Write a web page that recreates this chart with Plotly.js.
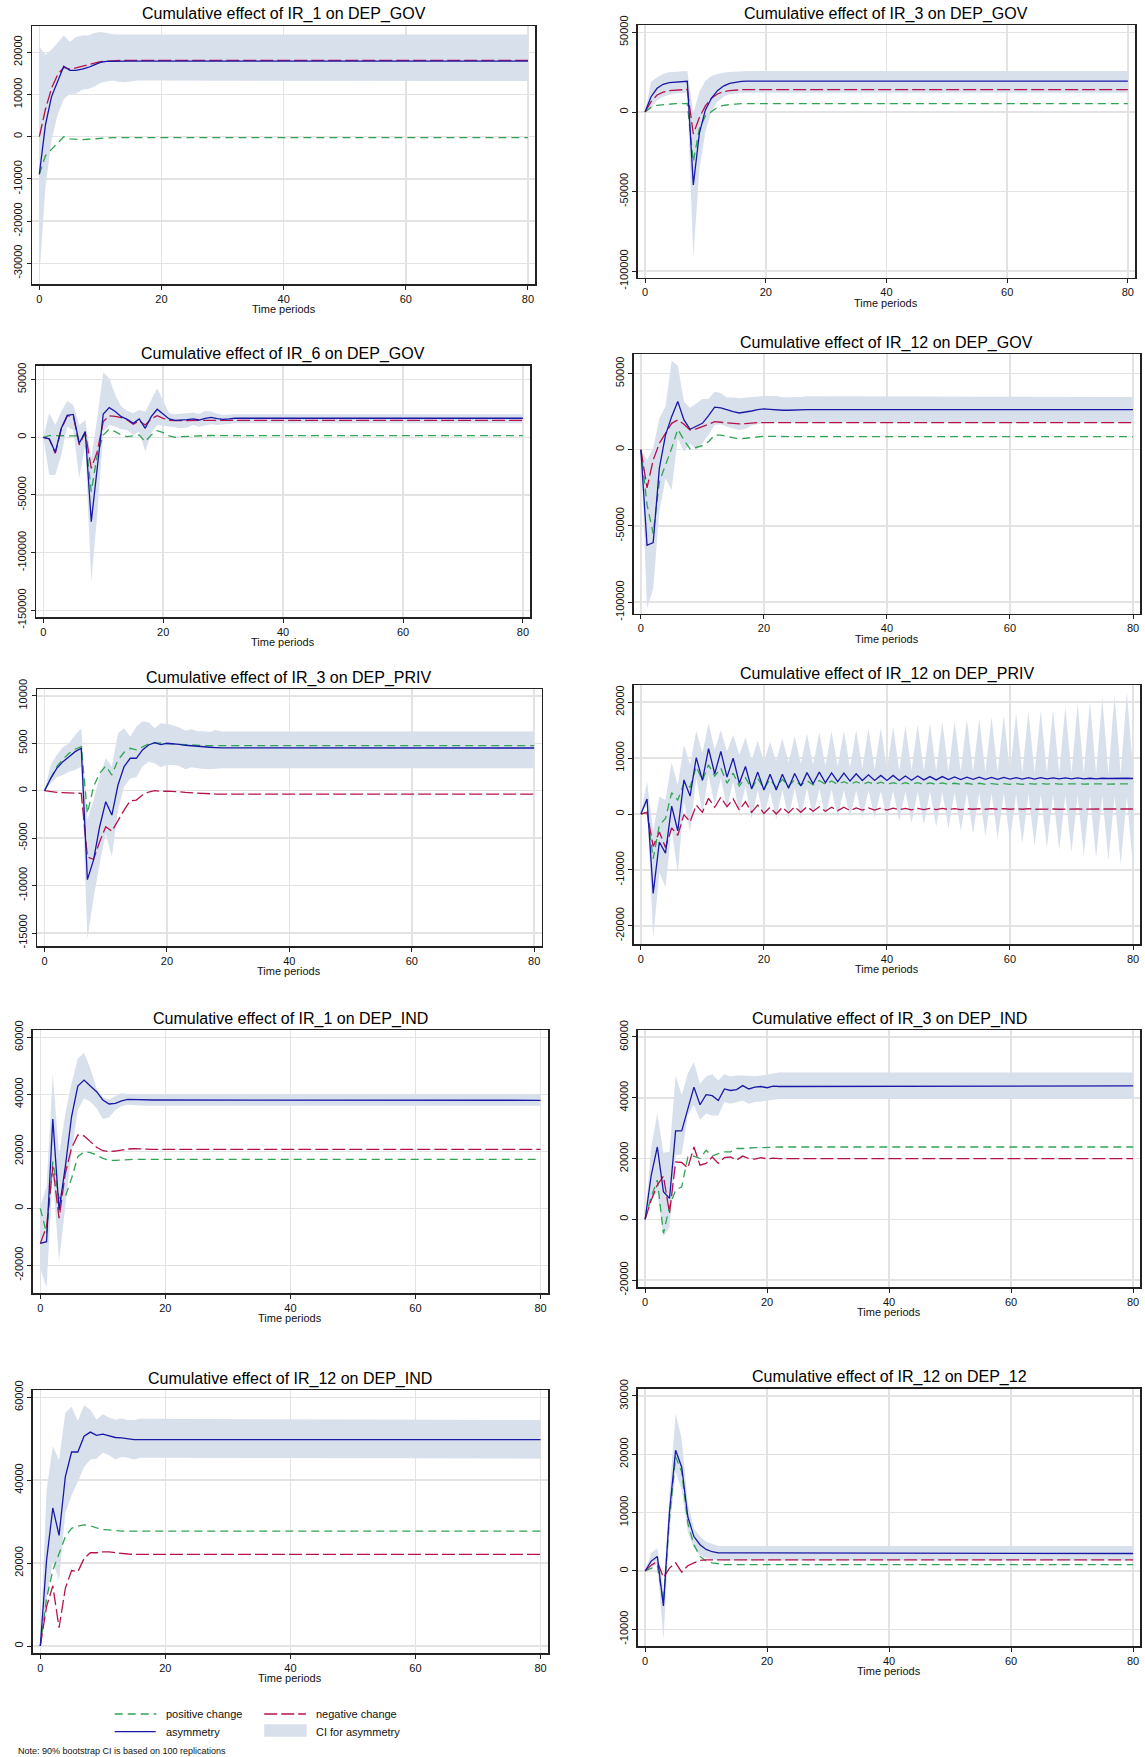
<!DOCTYPE html>
<html><head><meta charset="utf-8">
<script src="https://cdn.plot.ly/plotly-3.0.1.min.js"></script>
<style>html,body{margin:0;padding:0;background:#fff}</style>
</head><body><div id="chart" style="width:1145px;height:1757px"></div>
<script>
// ---------- DATA ----------
const titles = [
  "Cumulative effect of IR_1 on DEP_GOV", "Cumulative effect of IR_3 on DEP_GOV",
  "Cumulative effect of IR_6 on DEP_GOV", "Cumulative effect of IR_12 on DEP_GOV",
  "Cumulative effect of IR_3 on DEP_PRIV", "Cumulative effect of IR_12 on DEP_PRIV",
  "Cumulative effect of IR_1 on DEP_IND", "Cumulative effect of IR_3 on DEP_IND",
  "Cumulative effect of IR_12 on DEP_IND", "Cumulative effect of IR_12 on DEP_12"
];
const xTitle = "Time periods";
const xTicks = [0, 20, 40, 60, 80];
const legendLabels = ["positive change", "negative change", "asymmetry", "CI for asymmetry"];
const noteText = "Note: 90% bootstrap CI is based on 100 replications";

// Panel 1: IR_1 on DEP_GOV
const t1 = [0,1,2,3,4,5,6,7,8,9,10,11,12,13,14,15,16,17,80];
const asym1 = [-8900,2800,9500,13100,16700,15700,15700,16000,16400,17000,17600,17850,17900,17900,17900,17900,17900,17900,17900];
const pos1 = [-8900,-4500,-3000,-1600,0,-500,-600,-700,-600,-500,-300,-200,-200,-200,-200,-200,-200,-200,-200];
const neg1 = [0,6500,11500,14700,16400,16000,16300,16700,17100,17500,17800,17900,18000,18100,18100,18100,18100,18100,18100];
const up1 = [21300,19400,20600,22400,24000,22500,23650,24000,24000,24600,24800,24600,24300,24200,24200,24200,24200,24200,24200];
const lo1 = [-33300,-11900,-800,5200,8900,10200,10200,11100,11300,11900,12700,13100,13300,13000,12900,13100,13300,13300,13200];
const yt1 = [-30000,-20000,-10000,0,10000,20000];

// Panel 2: IR_3 on DEP_GOV
const t2 = [0,1,2,3,4,5,6,7,8,9,10,11,12,13,14,15,16,17,80];
const asym2 = [0,9600,14900,17400,18400,18800,19200,19300,-45800,-13400,1300,8600,13400,16300,18000,18800,19200,19450,19450];
const pos2 = [0,2900,4200,4600,5000,5200,5200,5400,-31200,-10500,-2500,200,2900,4200,4800,5000,5200,5300,5300];
const neg2 = [0,6500,10700,12500,13400,13800,14000,14200,-13800,-3500,3800,8600,11300,12800,13400,13800,14000,14100,14100];
const up2 = [0,19000,21800,23800,24900,25300,25500,25700,-800,12800,19700,22600,23800,24700,25100,25300,25700,25700,25700];
const lo2 = [0,2300,7500,9600,10900,11700,11900,12100,-91200,-36400,-12300,200,6500,9600,11100,11700,11900,12100,12100];
const yt2 = [-100000,-50000,0,50000];

// Panel 3: IR_6 on DEP_GOV
const t3 = [0,1,2,3,4,5,6,7,8,9,10,11,12,13,14,15,16,17,18,19,20,21,22,23,24,25,26,27,28,29,30,31,32,80];
const asym3 = [0,-1400,-13000,7800,19000,19800,-5200,4900,-73100,-26900,20200,25700,22300,17900,15600,12100,15900,7800,17900,24300,20200,15900,14700,14700,15300,15900,15000,16500,17300,16200,15600,15900,16500,16500];
const pos3 = [0,1400,1400,1400,1400,1700,1200,1200,-47100,-15300,2000,7200,4900,2000,600,1200,2000,-3800,2000,5800,4000,1200,0,600,900,1200,1400,2000,1700,1400,1200,1400,1400,1400];
const neg3 = [0,-1400,-13900,7200,18500,18500,-6600,4300,-26900,-12400,13600,18500,18200,17100,15000,11300,14200,10700,15900,18800,16500,14700,14500,14600,14700,14700,14700,14700,14700,14700,14700,14700,14700,14700];
const up3 = [0,20800,10700,22300,31500,28000,10700,15000,-18200,16500,56400,51200,36700,26600,22800,20800,23700,22300,32400,42500,31500,20800,19900,20200,20800,21400,20200,23100,22300,20500,19400,19900,19900,19900];
const lo3 = [0,-32700,-32700,-15300,9200,6400,-35500,-6600,-125100,-67300,4900,10700,9200,6900,6400,2000,4900,-12400,3500,10700,10100,9200,8400,7800,8400,10700,9200,10100,11300,10700,11300,12100,12100,12100];
const yt3 = [-150000,-100000,-50000,0,50000];

// Panel 4: IR_12 on DEP_GOV
const t4 = [0,1,2,3,4,5,6,7,8,9,10,11,12,13,14,15,16,17,18,19,20,21,22,23,24,25,26,27,80];
const asym4 = [0,-62700,-61000,-12300,9600,21700,31600,19500,13400,15100,17300,22400,27900,27400,26100,25000,24100,24600,25400,26300,26800,26500,26100,25900,25900,26100,26300,26300,26300];
const pos4 = [0,-36000,-55000,-21100,-10100,900,13400,6400,400,1300,2600,5300,9600,9600,8600,7500,7000,7500,8100,8600,8800,8700,8600,8600,8600,8600,8600,8600,8600];
const neg4 = [0,-25000,-6800,4200,10700,17300,19500,16700,12900,13600,15100,16900,18400,18000,17500,17100,16900,17100,17500,17800,17800,17800,17800,17800,17800,17800,17800,17800,17800];
const up4 = [0,-6800,900,20600,28300,58300,55300,31600,27600,30500,33300,33300,38200,37100,34200,34200,33800,34200,34400,34900,35300,35500,35300,34400,34400,34400,34600,35100,34600];
const lo4 = [0,-104400,-91200,-40800,-18900,-26500,7500,-1300,4200,-200,4200,9600,16200,16700,15100,14000,12900,13600,15800,16700,17800,18000,18000,18000,18000,18000,18000,18000,18000];
const yt4 = [-100000,-50000,0,50000];

// Panel 5: IR_3 on DEP_PRIV
const t5 = [0,1,2,3,4,5,6,7,8,9,10,11,12,13,14,15,16,17,18,19,20,21,22,23,24,25,26,27,28,29,80];
const asym5 = [0,1300,2360,3060,3590,4120,4470,-9370,-7320,-3800,-1160,-2570,600,2540,3420,3420,4300,4820,5070,4860,5000,4960,4890,4790,4720,4680,4650,4580,4540,4510,4500];
const pos5 = [0,1230,2540,3310,3940,4370,4650,-2390,420,1830,2610,1650,3240,4050,4470,4300,4580,4930,5040,5000,5000,4930,4860,4830,4790,4750,4750,4750,4750,4750,4750];
const neg5 = [0,-100,-180,-210,-250,-280,-280,-6970,-7250,-5390,-3800,-4260,-3100,-2040,-1060,-990,-460,-140,0,-70,-40,-40,-110,-180,-230,-280,-310,-350,-350,-350,-350];
const up5 = [0,2710,3770,4580,5000,5880,6580,-3100,-990,1480,3420,2540,6060,6580,5700,6760,7290,7220,6580,7110,7040,6900,6650,6340,6480,6270,6270,6200,6410,6230,6230];
const lo5 = [0,770,1410,1650,2010,2180,2540,-15600,-11370,-7680,-4510,-6970,-2040,420,1300,1410,2540,3060,2890,2460,2710,2710,2610,2250,2460,2360,2300,2250,2300,2360,2360];
const yt5 = [-15000,-10000,-5000,0,5000,10000];

// Panel 6: IR_12 on DEP_PRIV (every period)
const t6 = [0,1,2,3,4,5,6,7,8,9,10,11,12,13,14,15,16,17,18,19,20,21,22,23,24,25,26,27,28,29,30,31,32,33,34,35,36,37,38,39,40,
  41,42,43,44,45,46,47,48,49,50,51,52,53,54,55,56,57,58,59,60,61,62,63,64,65,66,67,68,69,70,71,72,73,74,75,76,77,78,79,80];
const asym6 = [
  0,2700,-14200,-5000,-7000,1400,-3000,6100,3200,10100,
  6000,11700,7200,11200,6600,10000,5500,8500,4500,7500,
  4300,7100,4300,7100,4600,7250,5000,7400,5400,7500,
  5600,7350,5800,7300,5900,7200,6000,7000,6000,6900,
  6000,6900,6000,6800,6050,6800,6100,6700,6100,6700,
  6150,6650,6150,6600,6200,6600,6200,6550,6200,6550,
  6250,6500,6250,6500,6250,6500,6300,6450,6300,6450,
  6300,6450,6300,6400,6300,6400,6350,6400,6350,6400,
  6350];
const pos6 = [
  0,300,-8000,-2000,-800,3800,2500,5500,4800,8500,
  6000,8800,6800,8200,5500,7300,5000,6500,4500,6400,
  4500,6200,4800,6200,5000,6100,5100,6000,5200,6000,
  5300,5900,5300,5800,5300,5800,5300,5700,5300,5700,
  5300,5600,5300,5600,5300,5600,5300,5550,5300,5550,
  5300,5500,5300,5500,5300,5500,5300,5450,5300,5450,
  5300,5450,5300,5450,5350,5450,5350,5450,5350,5400,
  5350,5400,5350,5400,5350,5400,5350,5400,5350,5400,
  5350];
const neg6 = [
  0,300,-5800,-3200,-6000,-2500,-3800,-100,-1400,1600,
  300,2800,1200,3000,1300,2700,700,2200,300,1600,
  100,1200,0,1200,200,1300,300,1300,500,1300,
  500,1200,600,1200,600,1100,700,1100,700,1050,
  700,1050,750,1000,750,1000,800,1000,800,1000,
  800,950,800,950,850,950,850,950,850,950,
  850,950,850,950,850,900,850,900,850,900,
  850,900,850,900,900,900,900,900,900,900,
  900];
const up6 = [
  0,5800,-3000,3100,2500,9200,5200,12400,8800,14900,
  10900,16200,11500,15000,11200,14200,10600,13700,9700,13100,
  9400,12900,9500,13500,9200,13900,9000,14400,8800,14600,
  8600,14800,8500,14900,8300,15000,8200,15300,8000,15400,
  7900,15600,7800,15800,7800,16000,7700,16200,7700,16500,
  7600,16600,7600,17000,7500,17100,7500,17400,7500,17600,
  7400,18000,7400,18300,7400,18500,7300,18700,7300,19200,
  7300,19700,7300,20200,7200,20800,7200,21300,7200,21800,
  8000];
const lo6 = [
  0,1600,-22200,-10400,-13100,-2600,-10700,2200,-3200,6500,
  100,7000,1600,6400,1000,5800,100,4900,-800,4300,
  -800,4000,-900,4300,-800,4600,-700,4600,-600,4500,
  -500,4400,-500,4300,-600,4200,-700,4200,-700,4100,
  -800,4100,-1200,4000,-1560,4000,-1860,4000,-2280,3900,
  -2570,3900,-3050,3800,-3590,3800,-3890,3700,-4370,3700,
  -4850,3600,-5270,3600,-5690,3500,-6050,3500,-6470,3400,
  -6890,3400,-7370,3300,-7840,3300,-8260,3200,-9040,3200,
  -9760];
const yt6 = [-20000,-10000,0,10000,20000];

// Panel 7: IR_1 on DEP_IND
const t7 = [0,1,2,3,4,5,6,7,8,9,10,11,12,13,14,15,16,17,18,80];
const asym7 = [-12300,-11700,31300,-600,14600,32200,42900,45000,42900,40900,38000,36600,36800,37700,38200,38200,38200,38100,38000,37900];
const pos7 = [0,-8800,16400,3500,4100,10500,18100,19900,19500,18700,17500,16800,16800,17000,17200,17200,17200,17200,17200,17200];
const neg7 = [-12300,-6400,14600,-3500,12300,21100,25700,25400,23400,21400,20200,19900,20100,20500,20800,20900,20800,20700,20700,20700];
const up7 = [600,7600,47100,18700,33300,43900,52600,54600,49100,42100,38900,38200,39400,40400,40100,40000,39900,39800,39800,39800];
const lo7 = [-21100,-27700,11700,-18700,600,19300,34500,38600,37400,35100,31300,31900,34500,35900,36300,36300,36100,36000,36000,36000];
const yt7 = [-20000,0,20000,40000,60000];

// Panel 8: IR_3 on DEP_IND
const t8 = [0,1,2,3,4,5,6,7,8,9,10,11,12,13,14,15,16,17,18,19,20,21,22,80];
const asym8 = [0,14500,23800,9100,6900,29100,29100,36400,43500,37700,41000,40700,39100,42900,42400,42700,44000,42900,43500,43700,43300,43800,43700,43900];
const pos8 = [0,7400,12900,-4600,4200,9600,10700,20500,20800,20000,22700,20800,21600,22200,22200,23300,23300,23500,23600,23600,23700,23800,23800,23800];
const neg8 = [0,6300,11300,14200,2000,18900,18700,16900,23800,17800,18400,20500,18400,20300,20500,19500,20800,20000,19800,20300,19900,20100,20000,20000];
const up8 = [0,23800,34800,21900,22200,47300,40800,48100,51700,44600,47000,47700,45700,47700,47000,47300,47300,47100,47100,47300,47700,48100,48300,48300];
const lo8 = [0,6300,9100,-5700,-2700,21100,21400,34200,37500,32800,34800,34200,34200,38600,38000,38600,39100,38000,38600,38800,39100,39300,39600,39600];
const yt8 = [-20000,0,20000,40000,60000];

// Panel 9: IR_12 on DEP_IND
const t9 = [0,1,2,3,4,5,6,7,8,9,10,11,12,13,14,15,16,80];
const asym9 = [0,20700,33300,26700,40800,46800,46800,50600,51600,50800,51100,50700,50300,50200,50000,49800,49800,49800];
const pos9 = [0,11500,18300,22500,26300,28400,28900,29200,29000,28500,28100,28000,27800,27700,27700,27700,27700,27700];
const neg9 = [0,9500,14500,4400,13900,18200,17900,21100,22500,22500,22700,22700,22500,22300,22200,22100,22100,22100];
const up9 = [0,37600,48200,44800,56300,57700,54300,58100,57000,54600,55900,55100,54600,54900,54500,54500,54800,54500];
const lo9 = [0,11100,20300,15900,32000,36400,39600,43200,45000,45200,46600,46000,45000,45600,45400,45000,45400,45200];
const yt9 = [0,20000,40000,60000];

// Panel 10: IR_12 on DEP_12
const t10 = [0,1,2,3,4,5,6,7,8,9,10,11,12,13,80];
const asym10 = [0,1700,2500,-6000,10200,20700,17800,9300,5900,4500,3700,3300,3100,3100,3000];
const pos10 = [0,500,900,-5300,9000,19600,17000,8200,4500,2500,1700,1400,1200,1100,1100];
const neg10 = [0,1000,1600,-1100,500,1400,-200,900,1400,1800,1900,1900,1900,1900,1900];
const up10 = [0,3100,3900,-3300,13300,27000,22600,11600,7300,5900,5000,4600,4300,4300,4300];
const lo10 = [0,500,1300,-11800,7000,17000,13900,6700,3900,2700,2200,2000,1900,1800,1800];
const yt10 = [-10000,0,10000,20000,30000];

// ---------- LAYOUT (pixel frames: left, right, top, bottom; y range) ----------
const W = 1145, H = 1757;
const panels = [
  {t:t1, asym:asym1, pos:pos1, neg:neg1, up:up1, lo:lo1, yt:yt1, box:[32,535.3,26,284], yr:[-34900,26230]},
  {t:t2, asym:asym2, pos:pos2, neg:neg2, up:up2, lo:lo2, yt:yt2, box:[637.8,1135.1,25,277.7], yr:[-104080,54650]},
  {t:t3, asym:asym3, pos:pos3, neg:neg3, up:up3, lo:lo3, yt:yt3, box:[36.1,530.1,365.7,617.3], yr:[-156060,62080]},
  {t:t4, asym:asym4, pos:pos4, neg:neg4, up:up4, lo:lo4, yt:yt4, box:[633.5,1140.4,354.3,613.7], yr:[-107610,62600]},
  {t:t5, asym:asym5, pos:pos5, neg:neg5, up:up5, lo:lo5, yt:yt5, box:[37.2,541.5,689.3,946], yr:[-16370,10690]},
  {t:t6, asym:asym6, pos:pos6, neg:neg6, up:up6, lo:lo6, yt:yt6, box:[633.5,1140.4,685,944.3], yr:[-23310,23080]},
  {t:t7, asym:asym7, pos:pos7, neg:neg7, up:up7, lo:lo7, yt:yt7, box:[32.8,548,1030,1293.3], yr:[-29820,62560]},
  {t:t8, asym:asym8, pos:pos8, neg:neg8, up:up8, lo:lo8, yt:yt8, box:[637.8,1140.4,1030,1287.3], yr:[-22380,62300]},
  {t:t9, asym:asym9, pos:pos9, neg:neg9, up:up9, lo:lo9, yt:yt9, box:[32.8,548,1390,1653.3], yr:[-1760,61760]},
  {t:t10, asym:asym10, pos:pos10, neg:neg10, up:up10, lo:lo10, yt:yt10, box:[637.8,1140.4,1388.7,1646], yr:[-12860,31250]}
];

const FONT = "Liberation Sans, Arial, Helvetica, sans-serif";
const C_POS = "#2fa552", C_NEG = "#b5124c", C_ASY = "#1818a8", C_CI = "#d8e0ec";
const DASH_POS = "8px,5px", DASH_NEG = "13px,4px";
const px = x => x / W, py = y => 1 - y / H;

const data = [];
const layout = {
  width: W, height: H, margin: {l:0, r:0, t:0, b:0},
  paper_bgcolor: "#fff", plot_bgcolor: "#fff", showlegend: false,
  font: {family: FONT, color: "#111"},
  annotations: [], shapes: []
};

panels.forEach((p, i) => {
  const k = i === 0 ? "" : String(i + 1);
  const xa = "x" + k, ya = "y" + k;
  const common = {x: p.t, xaxis: xa, yaxis: ya, mode: "lines", hoverinfo: "skip"};
  data.push(Object.assign({}, common, {y: p.lo, line: {width: 0, color: C_CI}}));
  data.push(Object.assign({}, common, {y: p.up, line: {width: 0, color: C_CI}, fill: "tonexty", fillcolor: C_CI}));
  data.push(Object.assign({}, common, {y: p.pos, line: {width: 1.3, color: C_POS, dash: DASH_POS}}));
  data.push(Object.assign({}, common, {y: p.neg, line: {width: 1.3, color: C_NEG, dash: DASH_NEG}}));
  data.push(Object.assign({}, common, {y: p.asym, line: {width: 1.3, color: C_ASY}}));

  const [l, r, t, b] = p.box;
  layout["xaxis" + k] = {
    domain: [px(l), px(r)], anchor: ya, range: [-1.2, 81.2],
    tickmode: "array", tickvals: xTicks, ticktext: xTicks.map(String),
    showgrid: true, gridcolor: "#e3e3e3", gridwidth: 1.5, zeroline: false,
    showline: true, mirror: true, linecolor: "#222", linewidth: 1.5,
    ticks: "outside", ticklen: 4, tickwidth: 1, tickcolor: "#222",
    tickfont: {size: 11, family: FONT, color: "#111"}, fixedrange: true
  };
  layout["yaxis" + k] = {
    domain: [py(b), py(t)], anchor: xa, range: p.yr,
    tickmode: "array", tickvals: p.yt, ticktext: p.yt.map(String), tickangle: -90,
    showgrid: true, gridcolor: "#e3e3e3", gridwidth: 1.5, zeroline: false,
    showline: true, mirror: true, linecolor: "#222", linewidth: 1.5,
    ticks: "outside", ticklen: 4, tickwidth: 1, tickcolor: "#222",
    tickfont: {size: 11, family: FONT, color: "#111"}, fixedrange: true
  };
  const cx = (l + r) / 2;
  layout.annotations.push({text: titles[i], xref: "paper", yref: "paper", x: px(cx), y: py(t - 11.5),
    xanchor: "center", yanchor: "middle", showarrow: false, font: {size: 16, family: FONT, color: "#000"}});
  layout.annotations.push({text: xTitle, xref: "paper", yref: "paper", x: px(cx), y: py(b + 25),
    xanchor: "center", yanchor: "middle", showarrow: false, font: {size: 11, family: FONT, color: "#111"}});
});

// ---------- legend ----------
const row1 = 1714, row2 = 1731.7;
layout.shapes.push({type: "line", xref: "paper", yref: "paper", x0: px(114.7), x1: px(156.4), y0: py(row1), y1: py(row1),
  line: {color: C_POS, width: 1.3, dash: DASH_POS}});
layout.shapes.push({type: "line", xref: "paper", yref: "paper", x0: px(264.2), x1: px(305.9), y0: py(row1), y1: py(row1),
  line: {color: C_NEG, width: 1.3, dash: DASH_NEG}});
layout.shapes.push({type: "line", xref: "paper", yref: "paper", x0: px(114.7), x1: px(155.7), y0: py(row2), y1: py(row2),
  line: {color: C_ASY, width: 1.3}});
layout.shapes.push({type: "rect", xref: "paper", yref: "paper", x0: px(264.2), x1: px(306.6), y0: py(1736.7), y1: py(1724.3),
  fillcolor: C_CI, line: {width: 0}});
[[legendLabels[0], 163.5, row1], [legendLabels[1], 313.7, row1], [legendLabels[2], 163.5, row2], [legendLabels[3], 313.7, row2]]
  .forEach(([txt, x, y]) => layout.annotations.push({text: txt, xref: "paper", yref: "paper", x: px(x), y: py(y),
    xanchor: "left", yanchor: "middle", showarrow: false, font: {size: 11, family: FONT, color: "#111"}}));
layout.annotations.push({text: noteText, xref: "paper", yref: "paper", x: px(15.5), y: py(1751),
  xanchor: "left", yanchor: "middle", showarrow: false, font: {size: 9, family: FONT, color: "#111"}});

Plotly.newPlot("chart", data, layout, {staticPlot: true, displayModeBar: false});
</script>
</body></html>
